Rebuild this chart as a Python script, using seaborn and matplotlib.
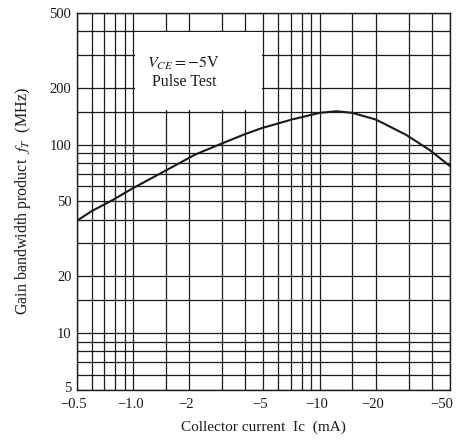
import matplotlib
matplotlib.use("Agg")
import matplotlib.pyplot as plt
import matplotlib.transforms as mtransforms
import numpy as np
import pandas as pd
import seaborn as sns
from matplotlib.patches import Rectangle

# values
ic_ma = [0.5, 0.6, 0.77, 0.99, 1.5, 2.15, 3.0, 4.0, 4.9, 7.1, 8.9, 10.0, 12.3, 15.0, 20.0, 29.0, 39.0, 50.0]
ft_mhz = [39.5, 44.4, 50.6, 58.5, 73, 88.6, 101.6, 114, 122.5, 136, 143.5, 147.5, 150.5, 147.5, 136, 113, 93.5, 77]

x_major = [0.5, 1.0, 2, 5, 10, 20, 50]
x_labels = ["\u22120.5", "\u22121.0", "\u22122", "\u22125", "\u221210", "\u221220", "\u221250"]
x_minor = [0.6, 0.7, 0.8, 0.9, 1.5, 3, 4, 6, 7, 8, 9, 15, 30, 40]
y_major = [5, 10, 20, 50, 100, 200, 500]
y_labels = ["5", "10", "20", "50", "100", "200", "500"]
y_minor = [6, 7, 8, 9, 15, 30, 40, 60, 70, 80, 90, 150, 300, 400]

INK = "#1a1a1a"


def main():
    sns.set_theme(style="white")
    plt.rcParams["font.family"] = ["Liberation Serif", "DejaVu Serif"]
    plt.rcParams["mathtext.fontset"] = "stix"

    df = pd.DataFrame({"ic": ic_ma, "ft": ft_mhz})

    fig = plt.figure(figsize=(4.58, 4.40), dpi=100)
    ax = fig.add_axes([0.168, 0.114, 0.8145, 0.8565])

    ax.set_xscale("log")
    ax.set_yscale("log")
    ax.set_xlim(0.5, 50)
    ax.set_ylim(5, 500)

    ax.set_xticks(x_major)
    ax.set_xticklabels(x_labels)
    ax.set_xticks(x_minor, minor=True)
    ax.set_xticklabels([], minor=True)
    ax.set_yticks(y_major)
    ax.set_yticklabels(y_labels)
    ax.set_yticks(y_minor, minor=True)
    ax.set_yticklabels([], minor=True)
    ax.tick_params(which="both", length=0, labelsize=10.5, colors=INK)
    ax.tick_params(axis="x", pad=6)
    ax.tick_params(axis="y", pad=4)

    # labels sit a bit left of their ticks in the reference
    px = lambda dx, dy: mtransforms.ScaledTranslation(dx / 100, dy / 100, fig.dpi_scale_trans)
    xlabs = ax.get_xticklabels()
    for lab in xlabs:
        lab.set_transform(lab.get_transform() + px(-3, 0))
    xlabs[-1].set_transform(xlabs[-1].get_transform() + px(-5, 0))
    ylabs = ax.get_yticklabels()
    ylabs[0].set_transform(ylabs[0].get_transform() + px(0, 3))

    ax.grid(True, which="both", color=INK, linewidth=0.9)

    # blank label area inside the grid
    box = Rectangle((1.025, 152), 5.0 / 1.02 - 1.025, 396 - 152,
                    facecolor="white", edgecolor="none", zorder=1.8)
    ax.add_patch(box)

    sns.lineplot(data=df, x="ic", y="ft", ax=ax, color=INK, linewidth=1.5, zorder=3)

    ax.text(1.87, 270, r"$V_{CE}=-5$V", ha="center", va="center", fontsize=11.5, color=INK, zorder=4)
    ax.text(1.87, 216, "Pulse Test", ha="center", va="center", fontsize=11.5, color=INK, zorder=4)

    for side in ["left", "right", "top", "bottom"]:
        ax.spines[side].set_visible(True)
        ax.spines[side].set_color(INK)
        ax.spines[side].set_linewidth(1.0)

    ax.set_xlabel("Collector current  Ic  (mA)", fontsize=11, color=INK, labelpad=7)
    ax.set_ylabel(r"Gain bandwidth product  $f_T$  (MHz)", fontsize=11.5, color=INK, labelpad=12)

    fig.savefig("out.png", dpi=100)
    plt.close(fig)


if __name__ == "__main__":
    main()
